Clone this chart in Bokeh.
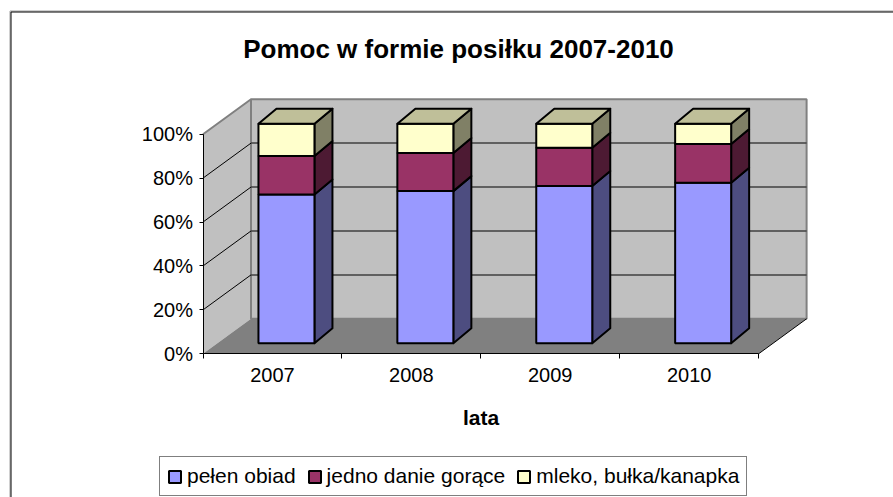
from bokeh.plotting import figure
from bokeh.models import (ColumnDataSource, FixedTicker, Label, Legend, LegendItem, Range1d)
from bokeh.embed import file_html
from bokeh.resources import INLINE

years = ["2007", "2008", "2009", "2010"]
series_names = ["pełen obiad", "jedno danie gorące", "mleko, bułka/kanapka"]
pelen_obiad = [67.8, 69.3, 71.6, 73.1]
jedno_danie = [17.5, 17.4, 17.4, 17.7]
mleko_bulka = [14.7, 13.3, 11.0, 9.2]
y_ticks = [0, 20, 40, 60, 80, 100]

FONT = "Liberation Sans"
W, H = 893, 497
PX_X = 138.9   # pixels per category
PX_Y = 2.196   # pixels per percent
X0, Y0 = 202.5, 353.3  # origin in figure pixels
WALL_DX, WALL_DY = 48 / PX_X, 35 / PX_Y
BAR_DX, BAR_DY = 18 / PX_X, 15 / PX_Y
OFF_X, OFF_Y = 14 / PX_X, 10.5 / PX_Y
BAR_W = 56 / PX_X
n = len(years)


def px_x(px):
    return (px - X0) / PX_X


def px_y(px):
    return (Y0 - px) / PX_Y


p = figure(width=W, height=H, output_backend="svg", toolbar_location=None,
           x_range=Range1d(px_x(0), px_x(W)),
           y_range=Range1d(px_y(H), px_y(0)),
           min_border=0, min_border_left=0, min_border_right=0,
           min_border_top=0, min_border_bottom=0)
p.outline_line_color = None
p.grid.visible = False
p.background_fill_color = "white"
p.border_fill_color = "white"

# chart-area frame (runs off the window at right and bottom)
for inset, colour in ((0, "#A0A0A0"), (1, "black")):
    p.line([px_x(9.5 + inset), px_x(9.5 + inset), px_x(W)],
           [px_y(H), px_y(10.5 + inset), px_y(10.5 + inset)],
           line_color=colour, line_width=1)

# walls and floor
p.patch([0, WALL_DX, WALL_DX, 0], [0, WALL_DY, 100 + WALL_DY, 100],
        fill_color="#C0C0C0", line_color=None)
p.line([0, WALL_DX, WALL_DX], [100, 100 + WALL_DY, WALL_DY], line_color="#808080", line_width=2)
p.patch([WALL_DX, n + WALL_DX, n + WALL_DX, WALL_DX],
        [WALL_DY, WALL_DY, 100 + WALL_DY, 100 + WALL_DY],
        fill_color="#C0C0C0", line_color="#808080", line_width=2)
p.patch([0, n, n + WALL_DX, WALL_DX], [0, 0, WALL_DY, WALL_DY],
        fill_color="#808080", line_color=None)
p.line([n, n + WALL_DX], [0, WALL_DY], line_color="black", line_width=1)
for t in y_ticks[1:-1]:
    p.line([0, WALL_DX], [t, t + WALL_DY], line_color="black", line_width=1)
    p.line([WALL_DX, n + WALL_DX], [t + WALL_DY, t + WALL_DY], line_color="#404040", line_width=1.5)

# stacked 3-D bars
stack = [pelen_obiad, jedno_danie, mleko_bulka]
fronts = ["#9999FF", "#993366", "#FFFFCC"]
sides = ["#4D4D80", "#4D1A33", "#808066"]
top_colour = "#BFBF99"
centres = [i + 0.5 + OFF_X for i in range(n)]
bottoms = [OFF_Y] * n
legend_items = []
for vals, front, side, name in zip(stack, fronts, sides, series_names):
    tops = [b + v for b, v in zip(bottoms, vals)]
    for c, b, t in zip(centres, bottoms, tops):
        xr = c + BAR_W / 2
        p.patch([xr, xr + BAR_DX, xr + BAR_DX, xr], [b, b + BAR_DY, t + BAR_DY, t],
                fill_color=side, line_color="black", line_width=2, line_join="round")
    src = ColumnDataSource(dict(x=centres, bottom=bottoms, top=tops))
    r = p.vbar(x="x", bottom="bottom", top="top", width=BAR_W, source=src,
               fill_color=front, line_color="black", line_width=2)
    legend_items.append(LegendItem(label=name, renderers=[r]))
    bottoms = tops
for c, t in zip(centres, bottoms):
    xl, xr = c - BAR_W / 2, c + BAR_W / 2
    p.patch([xl, xr, xr + BAR_DX, xl + BAR_DX], [t, t, t + BAR_DY, t + BAR_DY],
            fill_color=top_colour, line_color="black", line_width=2, line_join="round")

# axes
xa = p.xaxis[0]
xa.fixed_location = 0
xa.bounds = (0, n)
xa.ticker = FixedTicker(ticks=[i + 0.5 for i in range(n)], minor_ticks=list(range(n + 1)))
xa.major_label_overrides = {i + 0.5: y for i, y in enumerate(years)}
xa.major_tick_line_color = None
xa.minor_tick_in = 0
xa.minor_tick_out = 5
xa.minor_tick_line_color = "black"
xa.axis_line_color = "black"
xa.major_label_text_font = FONT
xa.major_label_text_font_size = "20px"
xa.major_label_text_color = "black"
xa.major_label_standoff = 8
xa.axis_label = "lata"
xa.axis_label_text_font = FONT
xa.axis_label_text_font_style = "bold"
xa.axis_label_text_font_size = "21px"
xa.axis_label_text_color = "black"
xa.axis_label_standoff = 21

ya = p.yaxis[0]
ya.fixed_location = 0
ya.bounds = (0, 100)
ya.ticker = FixedTicker(ticks=y_ticks)
ya.major_label_overrides = {t: f"{t}%" for t in y_ticks}
ya.minor_tick_line_color = None
ya.major_tick_in = 0
ya.major_tick_out = 4
ya.axis_line_color = "black"
ya.major_tick_line_color = "black"
ya.major_label_text_font = FONT
ya.major_label_text_font_size = "20px"
ya.major_label_text_color = "black"
ya.major_label_standoff = 6

p.add_layout(Label(x=458, y=H - 48, x_units="screen", y_units="screen", text="Pomoc w formie posiłku 2007-2010",
                   text_font=FONT, text_font_style="bold", text_font_size="26px", text_color="black",
                   text_align="center", text_baseline="middle"))

legend = Legend(items=legend_items, orientation="horizontal", location=(159, 1), margin=0,
                padding=7, spacing=11, glyph_width=15, glyph_height=15, label_standoff=5,
                label_text_font=FONT, label_text_font_size="21px", label_text_color="black",
                border_line_color="black", border_line_width=1, background_fill_alpha=1)
p.add_layout(legend, "center")

open("out.html", "w").write(file_html(p, INLINE))
